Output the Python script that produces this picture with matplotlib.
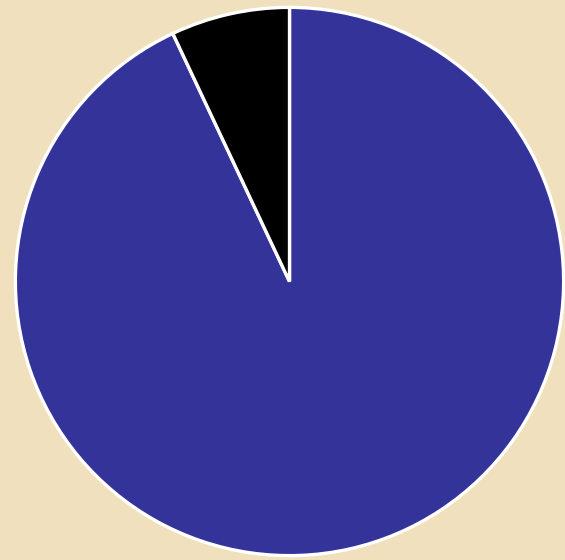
import matplotlib
matplotlib.use("Agg")
import matplotlib.pyplot as plt

labels = ["Series A", "Series B"]
values = [93, 7]
colors = ["#333399", "#000000"]

W, H = 565, 560
fig = plt.figure(figsize=(W / 100, H / 100), dpi=100)
fig.patch.set_facecolor("#f0e0bd")

cx, cy, r = 289.5, 281.5, 275.5
ax = fig.add_axes([(cx - r) / W, (H - cy - r) / H, 2 * r / W, 2 * r / H])
ax.set_facecolor("none")
ax.pie(values, colors=colors, startangle=90, counterclock=False, radius=1,
       wedgeprops=dict(edgecolor="white", linewidth=2.4))
ax.set_xlim(-1.005, 1.005)
ax.set_ylim(-1.005, 1.005)
ax.set_aspect("auto")
ax.axis("off")

fig.savefig("out.png", dpi=100, facecolor=fig.get_facecolor())
